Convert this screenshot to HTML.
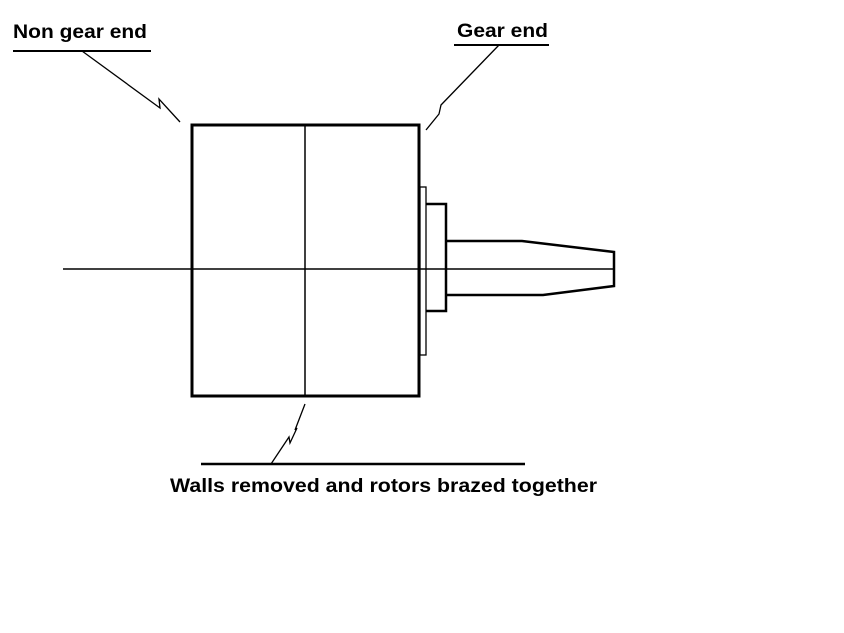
<!DOCTYPE html>
<html><head><meta charset="utf-8"><style>
html,body{margin:0;padding:0;background:#fff;}
svg{display:block;}
text{font-family:"Liberation Sans",Arial,sans-serif;font-weight:bold;fill:#000;}
</style></head><body>
<svg width="844" height="633" viewBox="0 0 844 633" xmlns="http://www.w3.org/2000/svg">
<rect width="844" height="633" fill="#fff"/>
<!-- labels -->
<text x="13" y="38" font-size="19" textLength="134" lengthAdjust="spacingAndGlyphs">Non gear end</text>
<line x1="13" y1="51" x2="151" y2="51" stroke="#000" stroke-width="2"/>
<polyline points="82,51 160,108 159,99 180,122" fill="none" stroke="#000" stroke-width="1.3"/>
<text x="457" y="37" font-size="19" textLength="91" lengthAdjust="spacingAndGlyphs">Gear end</text>
<line x1="454" y1="45" x2="549" y2="45" stroke="#000" stroke-width="2"/>
<polyline points="499,45 441,105 439,114 426,130" fill="none" stroke="#000" stroke-width="1.3"/>
<!-- main box -->
<rect x="192" y="125" width="227" height="271" fill="none" stroke="#000" stroke-width="3"/>
<line x1="305" y1="125" x2="305" y2="396" stroke="#000" stroke-width="1.5"/>
<!-- axis -->
<line x1="63" y1="269" x2="613" y2="269" stroke="#000" stroke-width="1.5"/>
<!-- flange -->
<rect x="420" y="187" width="6" height="168" fill="none" stroke="#000" stroke-width="1.3"/>
<!-- hub -->
<polyline points="426,204 446,204 446,311 426,311" fill="none" stroke="#000" stroke-width="2.5"/>
<!-- shaft -->
<polyline points="446,241 522,241 614,252 614,286 543,295 446,295" fill="none" stroke="#000" stroke-width="2.5"/>
<!-- bottom label -->
<polyline points="305,404 295,430 297,428 290,443 289,437 271,464" fill="none" stroke="#000" stroke-width="1.3"/>
<line x1="201" y1="464" x2="525" y2="464" stroke="#000" stroke-width="2.5"/>
<text x="170" y="492" font-size="19" textLength="427" lengthAdjust="spacingAndGlyphs">Walls removed and rotors brazed together</text>
</svg>
</body></html>
